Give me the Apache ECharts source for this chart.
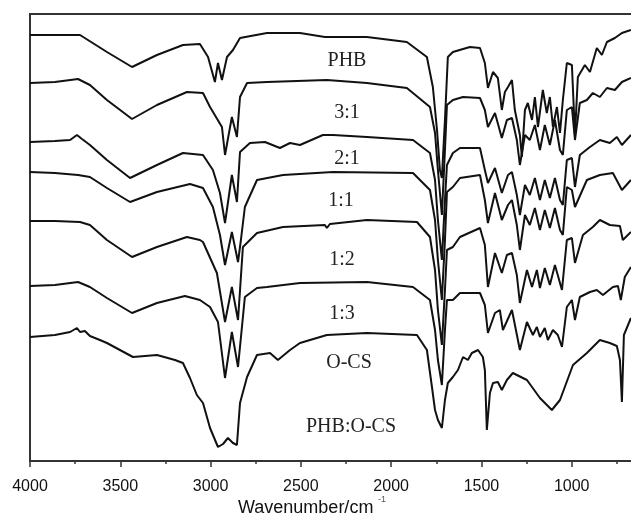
<!DOCTYPE html>
<html>
<head>
<meta charset="utf-8">
<script src="https://cdn.jsdelivr.net/npm/echarts@6/dist/echarts.min.js"></script>
<style>
html,body{margin:0;padding:0;background:#fff;}
#chart{width:631px;height:519px;}
</style>
</head>
<body>
<div id="chart"></div>
<script>
// FTIR spectra, [wavenumber (cm-1), offset transmittance (a.u.)]
const seriesNames = ['PHB', '3:1', '2:1', '1:1', '1:2', '1:3', 'O-CS'];
const captionText = 'PHB:O-CS';
const xTicks = [4000, 3500, 3000, 2500, 2000, 1500, 1000];

const phb = [[4000,426],[3862,426],[3723,426],[3574,409],[3435,394],[3297,406],[3153,416],[3059,417],[3014,404],[2976,379],[2959,398],[2937,381],[2909,404],[2876,411],[2837,423],[2688,428],[2505,428],[2367,424],[2356,426],[2134,424],[1913,419],[1802,404],[1769,374],[1746,331],[1730,291],[1719,283],[1702,341],[1686,404],[1658,409],[1564,414],[1508,413],[1481,398],[1464,373],[1436,389],[1409,383],[1387,351],[1370,369],[1353,374],[1331,381],[1315,351],[1287,326],[1276,304],[1259,351],[1243,358],[1220,341],[1204,364],[1187,334],[1160,371],[1138,348],[1121,364],[1104,334],[1082,354],[1065,328],[1049,361],[1027,398],[999,396],[982,326],[966,384],[927,396],[899,389],[861,413],[833,406],[805,419],[761,423],[722,428],[672,431]];

const r31 = [[4000,378],[3862,379],[3734,382],[3668,376],[3574,361],[3435,342],[3297,356],[3131,369],[3042,368],[3003,354],[2937,334],[2920,306],[2882,344],[2854,324],[2837,364],[2798,378],[2688,379],[2356,381],[2134,378],[1913,373],[1785,354],[1757,328],[1741,291],[1719,246],[1702,311],[1691,356],[1658,361],[1602,364],[1508,363],[1481,351],[1464,334],[1425,348],[1387,323],[1359,341],[1331,343],[1304,321],[1287,296],[1259,326],[1232,321],[1204,336],[1176,311],[1149,336],[1121,316],[1093,341],[1065,311],[1049,306],[1027,351],[999,354],[982,321],[955,358],[916,361],[883,368],[844,364],[805,373],[761,371],[722,379],[672,383]];

const r21 = [[4000,319],[3862,320],[3778,321],[3740,326],[3712,322],[3668,316],[3574,301],[3446,283],[3297,296],[3153,308],[3042,306],[2987,291],[2948,268],[2920,238],[2882,286],[2854,259],[2837,309],[2782,318],[2699,319],[2616,313],[2560,318],[2505,316],[2378,326],[2322,326],[2134,324],[1879,321],[1785,308],[1757,281],[1741,241],[1719,201],[1702,261],[1691,296],[1658,308],[1619,313],[1508,313],[1481,291],[1464,278],[1425,293],[1387,268],[1353,286],[1331,289],[1304,266],[1287,246],[1259,276],[1232,266],[1204,283],[1176,261],[1149,281],[1121,263],[1093,283],[1065,261],[1049,256],[1027,301],[999,303],[982,274],[955,306],[899,314],[844,321],[789,318],[750,324],[722,316],[672,326]];

const r11 = [[4000,289],[3862,288],[3734,286],[3668,284],[3574,273],[3446,259],[3297,269],[3114,277],[3042,273],[2987,254],[2948,226],[2920,196],[2882,229],[2848,199],[2832,221],[2810,254],[2743,281],[2599,286],[2322,289],[1879,288],[1785,271],[1757,241],[1741,201],[1719,161],[1702,221],[1691,269],[1658,274],[1619,283],[1508,286],[1481,261],[1464,238],[1425,268],[1387,241],[1353,256],[1331,261],[1304,236],[1287,211],[1259,246],[1232,236],[1204,253],[1176,231],[1149,251],[1121,233],[1093,253],[1065,231],[1049,226],[1027,274],[999,271],[982,254],[916,281],[844,286],[772,288],[722,271],[672,281]];

const r12 = [[4000,240],[3862,240],[3723,239],[3668,236],[3574,221],[3435,204],[3297,214],[3131,224],[3059,221],[3042,219],[2965,188],[2920,139],[2882,174],[2848,141],[2821,214],[2743,228],[2599,234],[2367,236],[2356,233],[2339,237],[2134,241],[1857,239],[1785,224],[1757,191],[1741,151],[1719,116],[1702,171],[1691,211],[1658,214],[1619,224],[1508,233],[1481,216],[1464,174],[1425,208],[1387,188],[1359,206],[1331,208],[1304,186],[1287,158],[1248,191],[1220,174],[1193,191],[1176,173],[1149,193],[1121,176],[1093,196],[1054,171],[1027,221],[999,223],[982,198],[938,226],[883,234],[844,241],[789,236],[733,235],[717,221],[672,229]];

const r13 = [[4000,175],[3862,176],[3734,179],[3668,174],[3574,163],[3435,148],[3297,158],[3142,165],[3059,161],[3003,154],[2959,139],[2920,83],[2882,129],[2848,94],[2810,164],[2743,173],[2688,174],[2505,178],[2134,179],[1879,174],[1785,161],[1757,131],[1741,101],[1719,76],[1702,131],[1691,161],[1658,161],[1619,168],[1508,168],[1481,156],[1464,128],[1425,148],[1398,151],[1381,131],[1331,151],[1287,111],[1248,139],[1215,126],[1193,134],[1176,124],[1149,133],[1132,121],[1104,131],[1077,126],[1054,114],[1027,154],[999,161],[982,141],[955,164],[899,169],[861,171],[827,166],[772,174],[744,175],[728,161],[706,184],[672,194]];

const ocs = [[4000,124],[3862,126],[3778,129],[3740,133],[3723,129],[3696,130],[3668,125],[3613,121],[3574,118],[3502,111],[3430,104],[3297,106],[3197,101],[3153,98],[3114,83],[3076,66],[3042,58],[3003,33],[2959,14],[2931,17],[2904,23],[2876,18],[2854,16],[2837,58],[2798,84],[2743,106],[2671,108],[2627,101],[2560,111],[2505,118],[2356,126],[2134,128],[1857,126],[1802,111],[1774,74],[1757,51],[1741,41],[1719,33],[1702,61],[1686,78],[1658,84],[1630,91],[1602,104],[1575,101],[1553,108],[1519,111],[1492,104],[1481,91],[1470,31],[1453,68],[1436,78],[1409,79],[1387,71],[1359,81],[1326,88],[1248,81],[1176,63],[1110,51],[1065,61],[993,96],[916,108],[844,121],[789,118],[750,115],[733,101],[722,59],[711,126],[672,143]];

const allData = [phb, r31, r21, r11, r12, r13, ocs];

const chart = echarts.init(document.getElementById('chart'), null, {renderer: 'canvas'});

const labelFont = '"Liberation Serif", "Times New Roman", serif';
const sansFont = '"Liberation Sans", Arial, sans-serif';
const labelPos = [[347,61],[347,113],[347,159],[341,201],[342,260],[342,314],[349,363]];

const graphics = seriesNames.map((n, i) => ({
  type: 'text', x: labelPos[i][0], y: labelPos[i][1],
  style: {text: n, font: '20px ' + labelFont, fill: '#222', align: 'center', verticalAlign: 'middle'}, z: 10
}));
graphics.push({
  type: 'text', x: 351, y: 427,
  style: {text: captionText, font: '20px ' + labelFont, fill: '#222', align: 'center', verticalAlign: 'middle'}, z: 10
});
graphics.push({
  type: 'text', x: 238, y: 508,
  style: {text: 'Wavenumber/cm', font: '18px ' + sansFont, fill: '#111', align: 'left', verticalAlign: 'middle'}, z: 10
});
graphics.push({
  type: 'text', x: 378, y: 500,
  style: {text: '-1', font: '9px ' + sansFont, fill: '#555', align: 'left', verticalAlign: 'middle'}, z: 10
});

const option = {
  animation: false,
  backgroundColor: '#fff',
  grid: {left: 30, top: 14, width: 632, height: 447, outerBoundsMode: 'none', containLabel: false,
         show: true, borderColor: '#333', borderWidth: 2},
  xAxis: {
    type: 'value', inverse: true, min: 500, max: 4000, interval: 500,
    axisLine: {show: true, lineStyle: {color: '#333', width: 2}},
    axisTick: {show: true, inside: false, length: 6, lineStyle: {color: '#333', width: 1.5}},
    minorTick: {show: true, splitNumber: 2, length: 3, lineStyle: {color: '#333', width: 1.5}},
    splitLine: {show: false},
    axisLabel: {
      margin: 18, fontSize: 16, color: '#111', fontFamily: sansFont,
      formatter: v => (xTicks.indexOf(v) >= 0 ? String(v) : '')
    }
  },
  yAxis: {
    type: 'value', min: 0, max: 447,
    axisLine: {show: true, lineStyle: {color: '#333', width: 2}},
    axisTick: {show: false}, axisLabel: {show: false}, splitLine: {show: false}
  },
  series: allData.map((d, i) => ({
    name: seriesNames[i], type: 'line', data: d, showSymbol: false, symbol: 'none',
    lineStyle: {color: '#111', width: 2}, smooth: false, z: 3
  })),
  graphic: graphics
};
chart.setOption(option);
</script>
</body>
</html>
